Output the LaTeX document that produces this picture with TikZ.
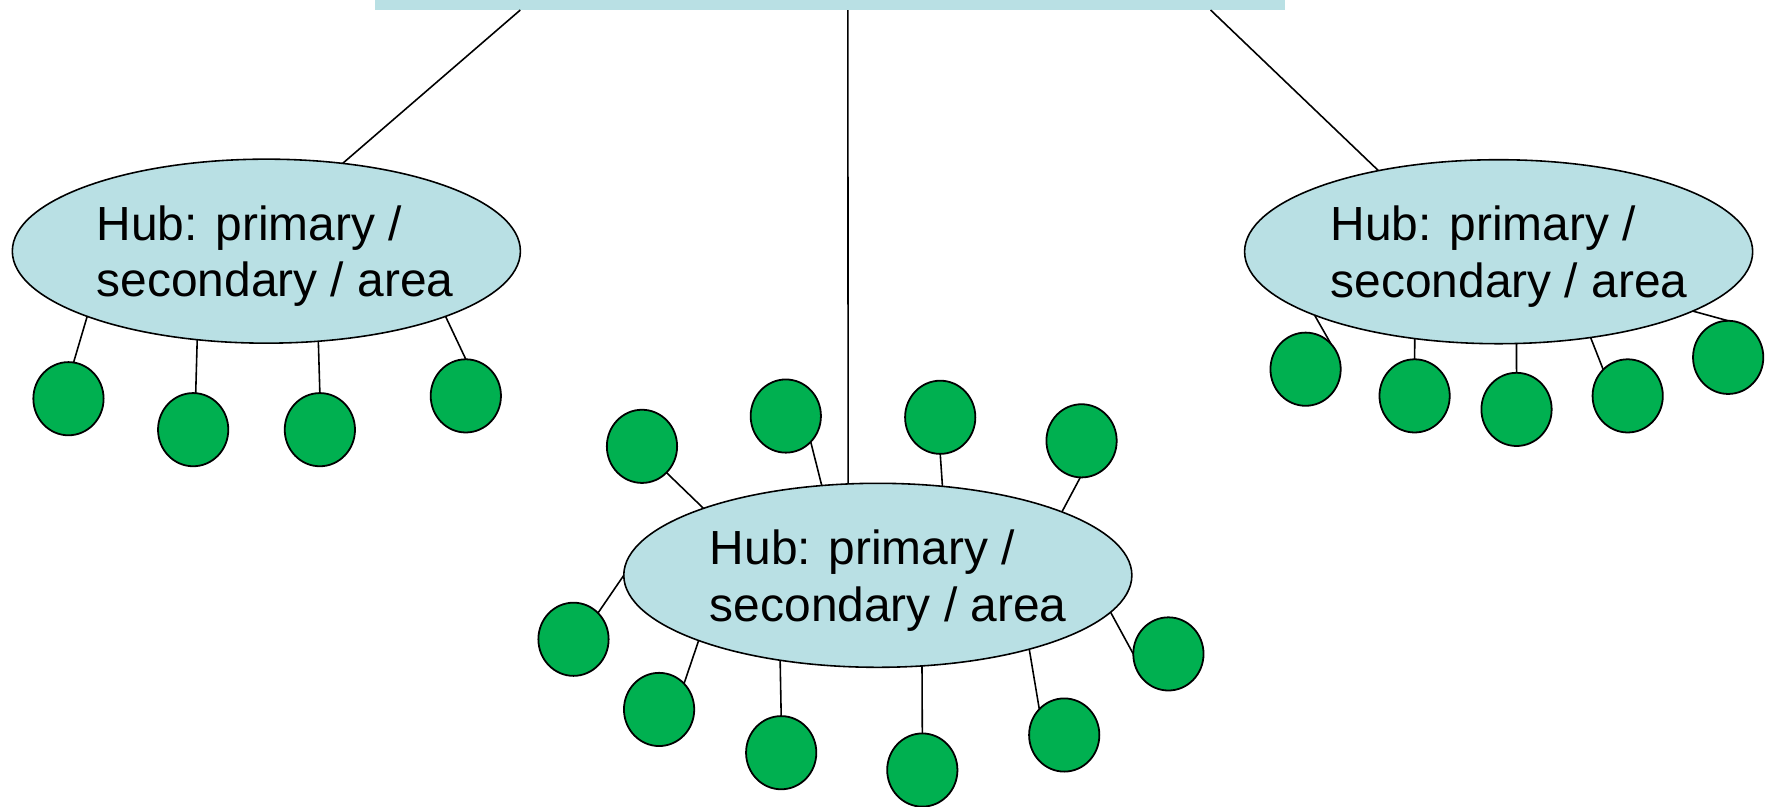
\documentclass[tikz,border=0pt]{standalone}
\usepackage{fontspec}
\setmainfont{Liberation Sans}
\usetikzlibrary{shapes.geometric,calc}
\definecolor{hubblue}{RGB}{185,224,228}
\definecolor{leafgreen}{RGB}{0,176,80}
\begin{document}
\begin{tikzpicture}[x=0.02cm,y=-0.02cm,
 hub/.style={ellipse,draw=black,line width=0.8pt,fill=hubblue,minimum width=9.024cm,minimum height=3.268cm,inner sep=0pt,outer sep=0pt},
 leaf/.style={ellipse,draw=black,line width=0.9pt,fill=leafgreen,minimum width=1.248cm,minimum height=1.30cm,inner sep=0pt,outer sep=0pt},
 hubtext/.style={align=left,inner sep=0pt,font=\fontsize{24.2}{28.6}\selectfont,anchor=west},
 link/.style={draw=black,line width=0.8pt},
 busbar/.style={fill=hubblue,draw=none,minimum width=16.16cm,minimum height=0.178cm,inner sep=0pt,outer sep=0pt,anchor=north west}]
\useasboundingbox (0,0) rectangle (1568,716);

\node[busbar] (bar) at (332.7,0) {};

% left hub
\node[hub] (L) at (236.5,223) {};
\node[hubtext] (Lt) at ([xshift=-3.02cm,yshift=-0.09cm]L.center) {Hub: primary /\\secondary / area};
\node[leaf] (L1) at (60.8,354) {};
\node[leaf] (L2) at (171.5,381.5) {};
\node[leaf] (L3) at (284,381.5) {};
\node[leaf] (L4) at (413.6,351.5) {};

% center hub
\node[hub] (C) at (779.4,510.8) {};
\node[hubtext] (Ct) at ([xshift=-2.99cm,yshift=-0.09cm]C.center) {Hub: primary /\\secondary / area};
\node[leaf] (T1) at (570,396.3) {};
\node[leaf] (T2) at (697.7,369.4) {};
\node[leaf] (T3) at (834.8,370.5) {};
\node[leaf] (T4) at (960.3,391.4) {};
\node[leaf] (W1) at (509.2,567.6) {};
\node[leaf] (B1) at (585.2,629.9) {};
\node[leaf] (B2) at (693.6,668.3) {};
\node[leaf] (B3) at (818.9,683.7) {};
\node[leaf] (B4) at (944.9,652.6) {};
\node[leaf] (E1) at (1037.4,580.6) {};

% right hub
\node[hub] (R) at (1330.6,223.5) {};
\node[hubtext] (Rt) at ([xshift=-2.99cm,yshift=-0.09cm]R.center) {Hub: primary /\\secondary / area};
\node[leaf] (R1) at (1159.2,327.8) {};
\node[leaf] (R2) at (1256,351.5) {};
\node[leaf] (R3) at (1346.5,363.5) {};
\node[leaf] (R4) at (1445.2,351.5) {};
\node[leaf] (R5) at (1534.4,317.3) {};

% bar to hubs
\draw[link] ($(bar.south west)!0.16!(bar.south east)$) -- (L.49);
\draw[link] ($(bar.south west)!0.52!(bar.south east)$) -- (C.108);
\draw[link] ($(bar.south west)!0.9187!(bar.south east)$) -- (R.146.4);

% left leaves
\draw[link] (L1.82.8) -- (L.200.1);
\draw[link] (L2.86.8) -- (L.232.5);
\draw[link] (L3.90.7) -- (L.300.2);
\draw[link] (L4.90) -- (L.340.1);

% center leaves
\draw[link] (T1.313.8) -- (C.159.1);
\draw[link] (T2.314) -- (C.122.3);
\draw[link] (T3.270) -- (C.54.4);
\draw[link] (T4.268) -- (C.19.8);
\draw[link] (W1.47.2) -- (C.180.3);
\draw[link] (B1.46.3) -- (C.200.1);
\draw[link] (B2.90) -- (C.221.4);
\draw[link] (B3.90) -- (C.296);
\draw[link] (B4.134.2) -- (C.334);
\draw[link] (E1.180) -- (C.351.7);

% right leaves
\draw[link] (R1.45.9) -- (R.199.7);
\draw[link] (R2.90) -- (R.226);
\draw[link] (R3.90) -- (R.281);
\draw[link] (R4.133.6) -- (R.317.4);
\draw[link] (R5.90) -- (R.343.8);
\end{tikzpicture}
\end{document}
